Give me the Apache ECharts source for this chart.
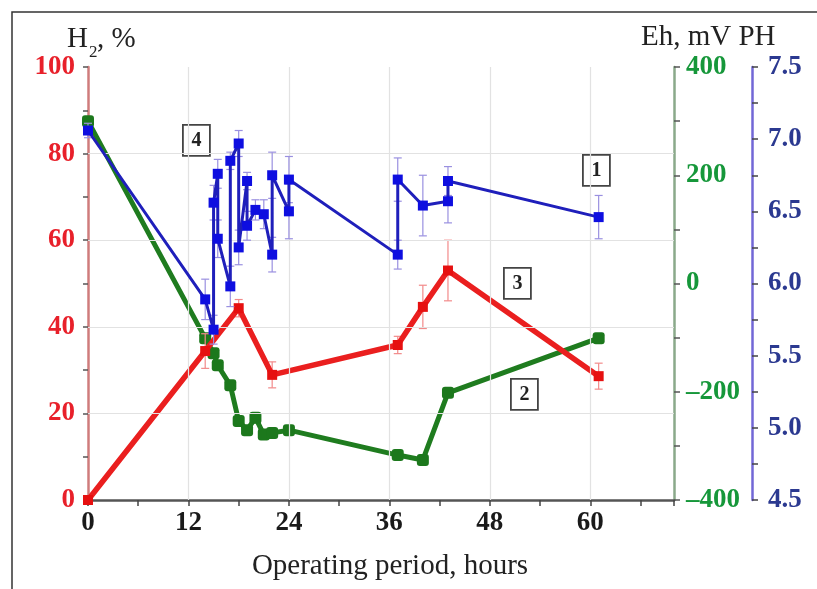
<!DOCTYPE html>
<html>
<head>
<meta charset="utf-8">
<title>H2, Eh and pH over the operating period</title>
<script src="https://cdn.jsdelivr.net/npm/echarts@6/dist/echarts.min.js"></script>
<style>
    html, body { margin: 0; padding: 0; background: #fff; }
    #chart { width: 817px; height: 589px; }
</style>
</head>
<body>
<div id="chart"></div>
<script>
// curve 1: pH (right blue axis), with error bars
var phHours  = [0, 14, 15, 15, 15.5, 15.5, 17, 17, 18, 18, 19, 19, 20, 21, 22, 22, 24, 24, 37, 37, 40, 43, 43, 61];
var phValues = [7.06, 5.89, 5.68, 6.56, 6.76, 6.31, 5.98, 6.85, 6.97, 6.25, 6.71, 6.40, 6.51, 6.48, 6.20, 6.75, 6.50, 6.72, 6.20, 6.72, 6.54, 6.57, 6.71, 6.46];
var phErrors = [0.05, 0.14, 0.10, 0.12, 0.10, 0.13, 0.14, 0.06, 0.09, 0.12, 0.06, 0.10, 0.07, 0.10, 0.12, 0.16, 0.19, 0.16, 0.10, 0.15, 0.21, 0.15, 0.10, 0.15];

// curve 2: Eh, mV (right green axis)
var ehHours  = [0, 14, 15, 15.5, 17, 18, 19, 20, 21, 22, 24, 37, 40, 43, 61];
var ehValues = [300, -101, -129, -151, -188, -254, -271, -248, -279, -276, -271, -317, -326, -202, -101];

// curve 3: H2, % (left red axis), with error bars
var h2Hours  = [0, 14, 18, 22, 37, 40, 43, 61];
var h2Values = [0, 34.4, 44.3, 28.9, 35.8, 44.6, 53.0, 28.6];
var h2Errors = [0, 4, 2, 3, 2, 5, 7, 3];

// grid lines
var hourGrid = [12, 24, 36, 48, 60];
var h2Grid = [20, 40, 60, 80];

// curve numbers in boxes
var curveTags = [
    { text: "4", x: 196, y: 140 },
    { text: "1", x: 596, y: 170 },
    { text: "3", x: 517, y: 283 },
    { text: "2", x: 524, y: 394 }
];

const serif = "'Liberation Serif', 'DejaVu Serif', serif";

function pairs(xs, ys) {
    return xs.map((x, i) => [x, ys[i]]);
}
function errRows(xs, ys, es) {
    return xs.map((x, i) => [x, ys[i] - es[i], ys[i] + es[i]]);
}
// vertical error bar with caps
function errorBar(color) {
    return function (params, api) {
        let x = api.value(0);
        let lo = api.coord([x, api.value(1)]);
        let hi = api.coord([x, api.value(2)]);
        let w = 4;
        let st = { stroke: color, lineWidth: 1.2 };
        return {
            type: 'group',
            children: [
                { type: 'line', shape: { x1: lo[0], y1: lo[1], x2: hi[0], y2: hi[1] }, style: st },
                { type: 'line', shape: { x1: lo[0] - w, y1: lo[1], x2: lo[0] + w, y2: lo[1] }, style: st },
                { type: 'line', shape: { x1: hi[0] - w, y1: hi[1], x2: hi[0] + w, y2: hi[1] }, style: st }
            ]
        };
    };
}

let chart = echarts.init(document.getElementById('chart'));

let graphics = [
    // outer frame
    { type: 'polyline', shape: { points: [[12, 589], [12, 12], [817, 12]] }, style: { stroke: '#333', lineWidth: 1.5, fill: null } },
    // H2, %
    { type: 'text', left: 67, top: 25, style: { text: 'H', font: '29px ' + serif, fill: '#222' } },
    { type: 'text', left: 89, top: 44, style: { text: '2', font: '17px ' + serif, fill: '#222' } },
    { type: 'text', left: 97, top: 25, style: { text: ', %', font: '29px ' + serif, fill: '#222' } },
    // Eh, mV PH
    { type: 'text', left: 641, top: 23, style: { text: 'Eh, mV PH', font: '29px ' + serif, fill: '#222' } }
];
curveTags.forEach(t => {
    graphics.push({
        type: 'group',
        left: t.x - 14,
        top: t.y - 16,
        children: [
            { type: 'rect', shape: { x: 0, y: 0, width: 27, height: 31 }, style: { fill: '#fff', stroke: '#444', lineWidth: 1.8 } },
            { type: 'text', x: 13.5, y: 15.5, style: { text: t.text, font: 'bold 20px ' + serif, fill: '#222', align: 'center', verticalAlign: 'middle' } }
        ]
    });
});

let option = {
    animation: false,
    grid: { left: 88, right: 143, top: 67, bottom: 89 },
    xAxis: [{
        type: 'value',
        min: 0,
        max: 70,
        interval: 6,
        name: 'Operating period, hours',
        nameLocation: 'middle',
        nameGap: 52,
        nameTextStyle: { fontFamily: serif, fontSize: 29, color: '#222', padding: [0, 0, 0, 18] },
        axisLine: { lineStyle: { color: '#555', width: 2.5 } },
        axisTick: { length: 6, lineStyle: { color: '#444', width: 1.5 } },
        axisLabel: {
            margin: 10,
            fontFamily: serif,
            fontWeight: 'bold',
            fontSize: 27,
            color: '#1a1a1a',
            formatter: v => (v % 12 === 0 && v <= 60 ? String(v) : '')
        },
        splitLine: { show: false }
    }],
    yAxis: [{
        type: 'value',
        position: 'left',
        min: 0,
        max: 100,
        interval: 10,
        axisLine: { show: true, lineStyle: { color: '#cf7c7c', width: 2.5 } },
        axisTick: { show: true, length: 5, lineStyle: { color: '#555', width: 1.5 } },
        axisLabel: {
            margin: 13,
            fontFamily: serif,
            fontWeight: 'bold',
            fontSize: 27,
            color: '#e8202a',
            formatter: v => (v % 20 === 0 ? String(v) : '')
        },
        splitLine: { show: false }
    }, {
        type: 'value',
        position: 'right',
        min: -400,
        max: 400,
        interval: 100,
        axisLine: { show: true, lineStyle: { color: '#8aa98a', width: 2.5 } },
        axisTick: { show: true, length: 6, lineStyle: { color: '#555', width: 1.5 } },
        axisLabel: {
            margin: 12,
            fontFamily: serif,
            fontWeight: 'bold',
            fontSize: 27,
            color: '#16973a',
            formatter: v => (v % 200 === 0 ? (v < 0 ? '\u2013' + Math.abs(v) : String(v)) : '')
        },
        splitLine: { show: false }
    }, {
        type: 'value',
        position: 'right',
        offset: 78,
        min: 4.5,
        max: 7.5,
        interval: 0.25,
        axisLine: { show: true, lineStyle: { color: '#7267d6', width: 2.5 } },
        axisTick: { show: true, length: 6, lineStyle: { color: '#444', width: 1.5 } },
        axisLabel: {
            margin: 16,
            fontFamily: serif,
            fontWeight: 'bold',
            fontSize: 27,
            color: '#2b3990',
            formatter: v => (Math.abs(v * 2 - Math.round(v * 2)) < 1e-6 ? v.toFixed(1) : '')
        },
        splitLine: { show: false }
    }],
    graphic: graphics,
    series: [
        // grid lines only
        {
            type: 'line',
            yAxisIndex: 0,
            data: pairs(h2Hours, h2Values),
            symbol: 'none',
            lineStyle: { opacity: 0 },
            silent: true,
            z: 0,
            markLine: {
                silent: true,
                symbol: 'none',
                label: { show: false },
                lineStyle: { color: '#e2e2e2', width: 1.2, type: 'solid' },
                data: hourGrid.map(h => ({ xAxis: h })).concat(h2Grid.map(v => ({ yAxis: v })))
            }
        },
        {
            name: 'Eh',
            type: 'line',
            yAxisIndex: 1,
            data: pairs(ehHours, ehValues),
            symbol: 'roundRect',
            symbolSize: 12,
            lineStyle: { color: '#1f7c1f', width: 5 },
            itemStyle: { color: '#1c781c' },
            z: 3
        },
        {
            name: 'H2 err',
            type: 'custom',
            yAxisIndex: 0,
            renderItem: errorBar('#f28a8a'),
            encode: { x: 0, y: [1, 2] },
            data: errRows(h2Hours, h2Values, h2Errors),
            z: 4
        },
        {
            name: 'H2',
            type: 'line',
            yAxisIndex: 0,
            data: pairs(h2Hours, h2Values),
            symbol: 'rect',
            symbolSize: 10,
            lineStyle: { color: '#ea1f1f', width: 5.5 },
            itemStyle: { color: '#e61010' },
            z: 4
        },
        {
            name: 'pH err',
            type: 'custom',
            yAxisIndex: 2,
            renderItem: errorBar('#9a90e0'),
            encode: { x: 0, y: [1, 2] },
            data: errRows(phHours, phValues, phErrors),
            z: 5
        },
        {
            name: 'pH',
            type: 'line',
            yAxisIndex: 2,
            data: pairs(phHours, phValues),
            symbol: 'rect',
            symbolSize: 10,
            lineStyle: { color: '#1f1fbb', width: 3 },
            itemStyle: { color: '#0e0ee0' },
            z: 6
        }
    ]
};
chart.setOption(option);
</script>
</body>
</html>
